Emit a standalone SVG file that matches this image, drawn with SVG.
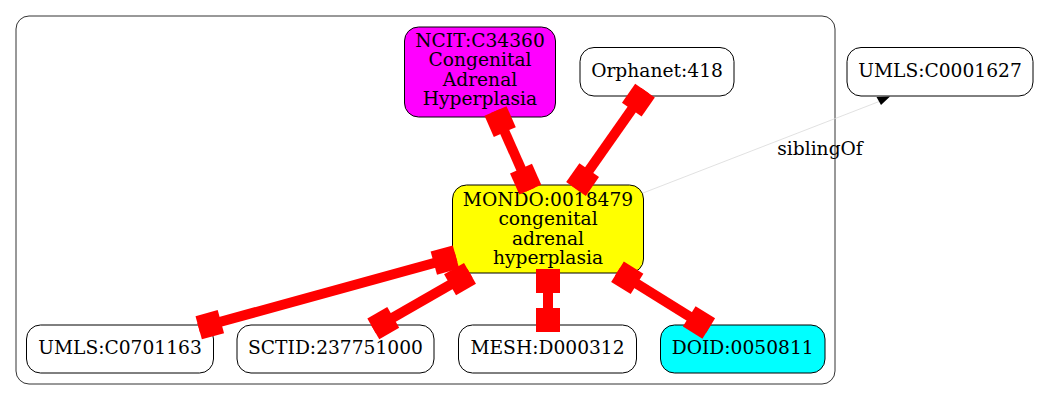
<svg xmlns="http://www.w3.org/2000/svg" width="1039" height="400" viewBox="0 0 1039 400">
<style>
  .node rect { stroke: #000; stroke-width: 1; }
  .lbl { font-family: "DejaVu Serif", serif; font-size: 18.67px; fill: #000; text-anchor: middle; }
  .e line { stroke: #ff0000; stroke-width: 10; }
  .e rect { fill: #ff0000; }
</style>
<rect x="0" y="0" width="1039" height="400" fill="#fff"/>
<g id="cluster">
  <rect x="16" y="16" width="819" height="368" rx="13" fill="none" stroke="#333" stroke-width="1"/>
</g>
<g id="n_ncit" class="node">
  <rect x="404.5" y="27" width="151" height="90" rx="14" fill="#ff00ff"/>
  <text class="lbl" x="480" y="46.8">NCIT:C34360</text>
  <text class="lbl" x="480" y="66.3">Congenital</text>
  <text class="lbl" x="480" y="85.8">Adrenal</text>
  <text class="lbl" x="480" y="105.3">Hyperplasia</text>
</g>
<g id="n_orphanet" class="node">
  <rect x="580" y="47.5" width="154" height="48.5" rx="14" fill="#fff"/>
  <text class="lbl" x="657" y="77.3">Orphanet:418</text>
</g>
<g id="n_umls1627" class="node">
  <rect x="847" y="47.5" width="186" height="48.5" rx="14" fill="#fff"/>
  <text class="lbl" x="940" y="76.8">UMLS:C0001627</text>
</g>
<g id="n_mondo" class="node">
  <rect x="452.5" y="185" width="191" height="88" rx="14" fill="#ffff00"/>
  <text class="lbl" x="548" y="206.3">MONDO:0018479</text>
  <text class="lbl" x="548" y="225.4">congenital</text>
  <text class="lbl" x="548" y="244.5">adrenal</text>
  <text class="lbl" x="548" y="263.6">hyperplasia</text>
</g>
<g id="n_umls1163" class="node">
  <rect x="26.5" y="325" width="187" height="48" rx="14" fill="#fff"/>
  <text class="lbl" x="120" y="354">UMLS:C0701163</text>
</g>
<g id="n_sctid" class="node">
  <rect x="237" y="325" width="197" height="48" rx="14" fill="#fff"/>
  <text class="lbl" x="335.5" y="354">SCTID:237751000</text>
</g>
<g id="n_mesh" class="node">
  <rect x="458.5" y="325" width="178" height="48" rx="14" fill="#fff"/>
  <text class="lbl" x="547.5" y="354">MESH:D000312</text>
</g>
<g id="n_doid" class="node">
  <rect x="660.5" y="325" width="164.5" height="48" rx="14" fill="#00ffff"/>
  <text class="lbl" x="742.7" y="354">DOID:0050811</text>
</g>
<g id="connectors">
  <g class="e" transform="translate(495.5,111) rotate(66.14)">
    <line x1="0" y1="0" x2="86.05" y2="0"/>
    <rect x="0" y="-12" width="23" height="24"/>
    <rect x="63.05" y="-12" width="23" height="24"/>
  </g>
  <g class="e" transform="translate(645,90.7) rotate(125.07)">
    <line x1="0" y1="0" x2="120.1" y2="0"/>
    <rect x="0" y="-12" width="23" height="24"/>
    <rect x="97.1" y="-12" width="23" height="24"/>
  </g>
  <g class="e" transform="translate(456,257) rotate(164.62)">
    <line x1="0" y1="0" x2="266.86" y2="0"/>
    <rect x="0" y="-12" width="23" height="24"/>
    <rect x="243.86" y="-12" width="23" height="24"/>
  </g>
  <g class="e" transform="translate(470,273.3) rotate(150.15)">
    <line x1="0" y1="0" x2="111.5" y2="0"/>
    <rect x="0" y="-12" width="23" height="24"/>
    <rect x="88.5" y="-12" width="23" height="24"/>
  </g>
  <g class="e" transform="translate(548,269) rotate(90)">
    <line x1="0" y1="0" x2="63" y2="0"/>
    <rect x="0" y="-12" width="24" height="24"/>
    <rect x="39" y="-12" width="24" height="24"/>
  </g>
  <g class="e" transform="translate(617.5,271.7) rotate(31.89)">
    <line x1="0" y1="0" x2="107.5" y2="0"/>
    <rect x="0" y="-12" width="23" height="24"/>
    <rect x="84.5" y="-12" width="23" height="24"/>
  </g>
  <g id="e_sibling">
    <line x1="643" y1="193" x2="883" y2="100" stroke="#d9d9d9" stroke-width="0.8"/>
    <polygon points="876.5,97 890,96.5 881,105" fill="#000"/>
    <text class="lbl" x="820" y="155">siblingOf</text>
  </g>
</g>
</svg>
